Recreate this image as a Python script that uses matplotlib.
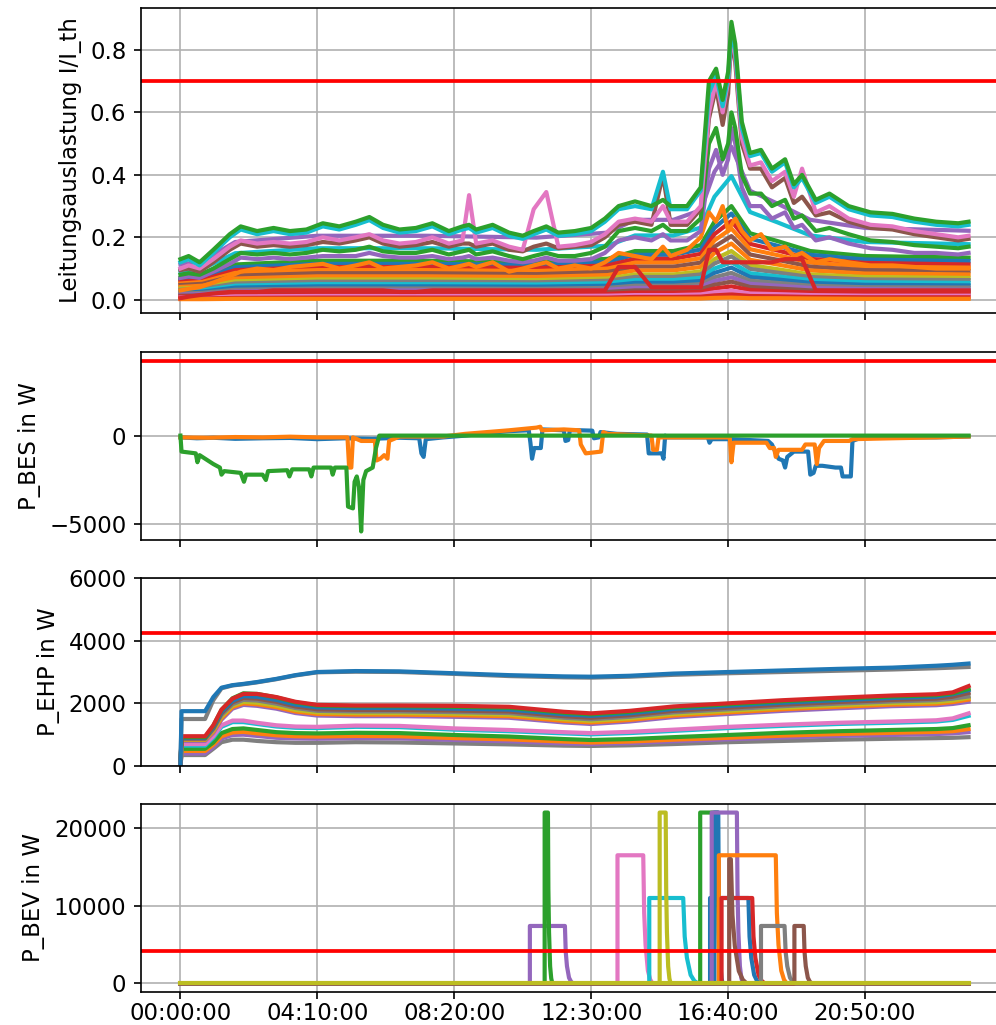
import matplotlib
matplotlib.use('Agg')
import matplotlib.pyplot as plt

plt.rcParams['font.size'] = 11

# ---------------- shared x axis (minutes of the day) ----------------
tick_minutes = [0, 250, 500, 750, 1000, 1250]
tick_labels = ['00:00:00', '04:10:00', '08:20:00', '12:30:00', '16:40:00', '20:50:00']
day_end = 1439

# ---------------- panel 1: line loading I/I_th ----------------
loading_limit = 0.7
t_main = [0, 15, 35, 60, 90, 110, 140, 170, 200, 230, 260, 290, 320, 345, 370, 400, 430, 460, 490, 515,
          527, 540, 570, 600, 625, 645, 668, 690, 720, 750, 775, 800, 830, 860, 881, 895, 925, 950, 965, 978,
          990, 1000, 1006, 1013, 1025, 1040, 1060, 1080, 1104, 1120, 1135, 1160, 1185, 1220, 1260, 1300, 1340, 1380, 1420, 1439]
load_green_top = [0.13, 0.14, 0.12, 0.16, 0.21, 0.235, 0.22, 0.23, 0.22, 0.225,
                  0.245, 0.235, 0.25, 0.265, 0.24, 0.225, 0.23, 0.245, 0.22, 0.235,
                  0.24, 0.225, 0.24, 0.215, 0.205, 0.22, 0.235, 0.215, 0.22, 0.23,
                  0.26, 0.30, 0.315, 0.30, 0.32, 0.30, 0.30, 0.36, 0.70, 0.74,
                  0.64, 0.73, 0.89, 0.82, 0.57, 0.47, 0.48, 0.42, 0.45, 0.37,
                  0.40, 0.32, 0.34, 0.30, 0.28, 0.275, 0.26, 0.25, 0.245, 0.25]
load_cyan = [0.12, 0.13, 0.11, 0.15, 0.20, 0.225, 0.21, 0.22, 0.21, 0.215,
             0.235, 0.225, 0.24, 0.255, 0.23, 0.215, 0.22, 0.235, 0.21, 0.225,
             0.23, 0.215, 0.23, 0.205, 0.195, 0.21, 0.225, 0.205, 0.21, 0.22,
             0.25, 0.29, 0.30, 0.29, 0.41, 0.29, 0.29, 0.35, 0.66, 0.72,
             0.62, 0.71, 0.86, 0.80, 0.55, 0.46, 0.47, 0.41, 0.44, 0.36,
             0.39, 0.31, 0.33, 0.29, 0.27, 0.265, 0.25, 0.24, 0.235, 0.24]
load_pink = [0.10, 0.11, 0.10, 0.13, 0.17, 0.19, 0.18, 0.185, 0.18, 0.185,
             0.20, 0.19, 0.20, 0.21, 0.19, 0.18, 0.185, 0.20, 0.18, 0.19,
             0.335, 0.18, 0.19, 0.17, 0.16, 0.29, 0.345, 0.17, 0.175, 0.185,
             0.21, 0.25, 0.26, 0.25, 0.30, 0.25, 0.25, 0.30, 0.60, 0.70,
             0.60, 0.70, 0.85, 0.78, 0.52, 0.43, 0.44, 0.38, 0.41, 0.33,
             0.42, 0.28, 0.30, 0.26, 0.24, 0.235, 0.22, 0.21, 0.20, 0.205]
load_brown = [0.095, 0.10, 0.09, 0.12, 0.16, 0.18, 0.17, 0.175, 0.17, 0.175,
              0.185, 0.18, 0.19, 0.20, 0.18, 0.17, 0.175, 0.185, 0.17, 0.18,
              0.18, 0.17, 0.18, 0.16, 0.155, 0.17, 0.18, 0.165, 0.17, 0.175,
              0.20, 0.24, 0.25, 0.24, 0.40, 0.24, 0.24, 0.29, 0.58, 0.68,
              0.56, 0.66, 0.84, 0.76, 0.50, 0.42, 0.42, 0.36, 0.39, 0.31,
              0.33, 0.27, 0.28, 0.25, 0.23, 0.225, 0.21, 0.20, 0.19, 0.195]
load_green_mid = [0.08, 0.085, 0.08, 0.10, 0.13, 0.15, 0.145, 0.15, 0.145, 0.15,
                  0.16, 0.155, 0.16, 0.17, 0.155, 0.15, 0.15, 0.16, 0.145, 0.155,
                  0.16, 0.145, 0.155, 0.14, 0.13, 0.14, 0.15, 0.14, 0.14, 0.15,
                  0.17, 0.22, 0.23, 0.22, 0.24, 0.22, 0.22, 0.26, 0.50, 0.55,
                  0.45, 0.50, 0.60, 0.55, 0.40, 0.34, 0.34, 0.30, 0.32, 0.26,
                  0.27, 0.22, 0.23, 0.21, 0.19, 0.185, 0.175, 0.17, 0.165, 0.17]
load_purple = [0.07, 0.075, 0.07, 0.09, 0.115, 0.135, 0.13, 0.135, 0.13, 0.135,
               0.14, 0.14, 0.14, 0.15, 0.14, 0.135, 0.135, 0.14, 0.13, 0.135,
               0.14, 0.13, 0.135, 0.125, 0.12, 0.125, 0.135, 0.125, 0.125, 0.13,
               0.15, 0.19, 0.20, 0.19, 0.21, 0.19, 0.19, 0.22, 0.42, 0.48,
               0.40, 0.45, 0.55, 0.50, 0.36, 0.30, 0.30, 0.26, 0.28, 0.23,
               0.24, 0.19, 0.20, 0.18, 0.165, 0.16, 0.15, 0.15, 0.145, 0.15]
load_orange = [0.03, 0.035, 0.04, 0.055, 0.075, 0.09, 0.10, 0.095, 0.105, 0.11,
               0.115, 0.10, 0.11, 0.12, 0.10, 0.105, 0.11, 0.12, 0.10, 0.11,
               0.115, 0.105, 0.12, 0.09, 0.10, 0.11, 0.12, 0.10, 0.11, 0.10,
               0.12, 0.15, 0.14, 0.13, 0.17, 0.14, 0.16, 0.20, 0.28, 0.25,
               0.30, 0.22, 0.24, 0.26, 0.22, 0.19, 0.21, 0.16, 0.17, 0.14,
               0.15, 0.12, 0.13, 0.12, 0.11, 0.11, 0.105, 0.10, 0.10, 0.10]
load_red = [0.005, 0.01, 0.015, 0.02, 0.025, 0.025, 0.025, 0.03, 0.03, 0.03,
            0.03, 0.03, 0.03, 0.03, 0.03, 0.025, 0.025, 0.03, 0.03, 0.03,
            0.03, 0.03, 0.03, 0.03, 0.03, 0.03, 0.03, 0.03, 0.03, 0.03,
            0.03, 0.105, 0.105, 0.04, 0.04, 0.04, 0.04, 0.04, 0.16, 0.16,
            0.12, 0.12, 0.12, 0.12, 0.12, 0.12, 0.12, 0.12, 0.13, 0.13,
            0.13, 0.03, 0.03, 0.03, 0.03, 0.03, 0.03, 0.03, 0.03, 0.03]

t_fill = [0, 40, 100, 250, 450, 650, 780, 830, 900, 950, 975, 1006, 1040, 1090, 1150, 1250, 1439]
fill_lines = [
    [0.113, 0.123, 0.185, 0.205, 0.205, 0.199, 0.215, 0.256, 0.256, 0.287, 0.41, 0.49, 0.349, 0.308, 0.256, 0.23, 0.221],
    [0.091, 0.099, 0.149, 0.165, 0.165, 0.16, 0.173, 0.206, 0.206, 0.231, 0.33, 0.396, 0.281, 0.248, 0.206, 0.185, 0.178],
    [0.069, 0.075, 0.113, 0.125, 0.125, 0.121, 0.131, 0.156, 0.156, 0.175, 0.25, 0.30, 0.213, 0.188, 0.156, 0.14, 0.135],
    [0.063, 0.069, 0.104, 0.115, 0.115, 0.112, 0.121, 0.144, 0.144, 0.161, 0.23, 0.276, 0.196, 0.173, 0.144, 0.129, 0.124],
    [0.058, 0.063, 0.095, 0.105, 0.105, 0.102, 0.110, 0.131, 0.131, 0.147, 0.21, 0.252, 0.179, 0.158, 0.131, 0.118, 0.113],
    [0.052, 0.057, 0.086, 0.095, 0.095, 0.092, 0.100, 0.119, 0.119, 0.133, 0.19, 0.228, 0.162, 0.143, 0.119, 0.106, 0.103],
    [0.047, 0.051, 0.077, 0.085, 0.085, 0.082, 0.089, 0.106, 0.106, 0.119, 0.17, 0.204, 0.145, 0.128, 0.106, 0.095, 0.092],
    [0.041, 0.045, 0.068, 0.075, 0.075, 0.073, 0.079, 0.094, 0.094, 0.105, 0.15, 0.18, 0.128, 0.113, 0.094, 0.084, 0.081],
    [0.036, 0.039, 0.059, 0.065, 0.065, 0.063, 0.068, 0.081, 0.081, 0.091, 0.13, 0.156, 0.111, 0.098, 0.081, 0.073, 0.070],
    [0.032, 0.035, 0.052, 0.058, 0.058, 0.056, 0.061, 0.073, 0.073, 0.081, 0.116, 0.139, 0.099, 0.087, 0.073, 0.065, 0.063],
    [0.028, 0.03, 0.045, 0.05, 0.05, 0.049, 0.053, 0.063, 0.063, 0.07, 0.10, 0.12, 0.085, 0.075, 0.063, 0.056, 0.054],
    [0.024, 0.026, 0.039, 0.043, 0.043, 0.042, 0.045, 0.054, 0.054, 0.06, 0.086, 0.103, 0.073, 0.065, 0.054, 0.048, 0.046],
    [0.02, 0.022, 0.032, 0.036, 0.036, 0.035, 0.038, 0.045, 0.045, 0.05, 0.072, 0.086, 0.061, 0.054, 0.045, 0.04, 0.039],
    [0.017, 0.018, 0.027, 0.03, 0.03, 0.029, 0.032, 0.038, 0.038, 0.042, 0.06, 0.072, 0.051, 0.045, 0.038, 0.034, 0.032],
    [0.013, 0.014, 0.022, 0.024, 0.024, 0.023, 0.025, 0.03, 0.03, 0.034, 0.048, 0.058, 0.041, 0.036, 0.03, 0.027, 0.026],
    [0.01, 0.011, 0.016, 0.018, 0.018, 0.017, 0.019, 0.023, 0.023, 0.025, 0.036, 0.043, 0.031, 0.027, 0.023, 0.02, 0.019],
    [0.007, 0.007, 0.011, 0.012, 0.012, 0.012, 0.013, 0.015, 0.015, 0.017, 0.024, 0.029, 0.02, 0.018, 0.015, 0.013, 0.013],
    [0.004, 0.004, 0.006, 0.007, 0.007, 0.007, 0.007, 0.009, 0.009, 0.01, 0.014, 0.017, 0.012, 0.011, 0.009, 0.008, 0.008],
    [0.002, 0.002, 0.003, 0.003, 0.003, 0.003, 0.003, 0.004, 0.004, 0.004, 0.006, 0.007, 0.005, 0.005, 0.004, 0.003, 0.003],
]
fill_colors = ['tab:purple', 'tab:cyan', 'tab:green', 'tab:blue', 'tab:red', 'tab:orange', 'tab:brown',
               'tab:orange', 'tab:olive', 'tab:gray', 'tab:cyan', 'tab:blue', 'tab:gray', 'tab:purple',
               'tab:brown', 'tab:red', 'tab:pink', 'tab:red', 'tab:orange']

# ---------------- panel 2: battery storage P_BES ----------------
power_limit = 4230
bes_blue_t = [0, 30, 60, 100, 150, 200, 250, 300, 350, 400, 436, 440, 444, 448, 480, 520, 560, 600, 636, 639,
              642, 646, 658, 661, 700, 703, 708, 711, 730, 752, 755, 764, 767, 797, 852, 855, 879, 882, 885, 889,
              963, 966, 970, 1005, 1073, 1080, 1086, 1092, 1100, 1104, 1108, 1120, 1146, 1150, 1156, 1160, 1172, 1196, 1206, 1209,
              1224, 1227, 1240, 1300, 1380, 1439]
bes_blue_v = [-100, -150, -120, -180, -150, -130, -200, -150, -180, -120, -150, -1000, -1200, -200, -100, 0, 150, 250, 300, -400,
              -1300, -700, -700, 350, 300, -300, -250, 300, 300, 280, -150, -100, 200, 100, 60, -1000, -1000, -1300, 0, -100,
              -100, -400, -200, -200, -300, -500, -900, -1300, -1400, -1800, -1200, -900, -900, -2200, -2100, -1700, -1700, -1800, -1800, -2300,
              -2300, -300, -150, -100, -100, -50]
bes_orange_t = [0, 50, 100, 150, 200, 250, 305, 308, 312, 315, 330, 355, 358, 365, 372, 378, 381, 400, 480, 520,
                560, 600, 650, 657, 660, 700, 728, 731, 740, 768, 772, 780, 860, 863, 870, 873, 1003, 1006, 1010, 1070,
                1076, 1084, 1087, 1092, 1135, 1141, 1158, 1162, 1166, 1175, 1221, 1227, 1300, 1380, 1439]
bes_orange_v = [-100, -120, -80, -100, -60, -100, -100, -1800, -1800, -100, -300, -300, -1400, -1300, -1100, -1300, -300, -50, -50, 100,
                200, 300, 450, 500, 300, 350, 300, -500, -1000, -900, 200, 100, 0, -800, -800, -100, -100, -1500, -400, -400,
                -700, -700, -1200, -800, -800, -500, -500, -1600, -700, -300, -300, -200, -150, -100, -50]
bes_green_t = [0, 2, 28, 31, 35, 60, 72, 75, 80, 110, 116, 120, 150, 156, 160, 195, 199, 204, 235, 239,
               243, 275, 278, 282, 303, 306, 315, 318, 322, 326, 330, 334, 339, 351, 357, 363, 1439]
bes_green_v = [0, -900, -1000, -1500, -1100, -1600, -1800, -2200, -2000, -2100, -2600, -2200, -2200, -2500, -2000, -1950, -2300, -1900, -1900, -2300,
               -1800, -1800, -2200, -1800, -1800, -4000, -4100, -2600, -2300, -2900, -5400, -2500, -2000, -1800, -700, 0, 0]

# ---------------- panel 3: heat pumps P_EHP ----------------
t_ehp = [0, 2, 35, 45, 60, 75, 95, 115, 140, 175, 210, 250, 320, 400, 500, 600, 700, 750, 820, 900,
         1000, 1100, 1200, 1300, 1380, 1410, 1439]
ehp_lines = [
    ('tab:gray',   [0, 350, 350, 350, 550, 760, 840, 840, 800, 760, 740, 740, 760, 750, 720, 690, 650, 640, 660, 700, 760, 800, 840, 870, 890, 900, 920]),
    ('tab:purple', [0, 400, 400, 400, 600, 880, 990, 1000, 960, 900, 880, 870, 890, 880, 830, 790, 720, 700, 730, 790, 850, 910, 960, 990, 1020, 1040, 1080]),
    ('tab:orange', [0, 480, 480, 480, 680, 950, 1070, 1090, 1040, 980, 950, 940, 960, 950, 890, 850, 780, 750, 780, 840, 900, 970, 1020, 1060, 1090, 1110, 1180]),
    ('tab:green',  [0, 550, 550, 550, 750, 1050, 1180, 1200, 1150, 1080, 1050, 1040, 1060, 1050, 990, 940, 860, 830, 860, 920, 990, 1060, 1110, 1150, 1180, 1210, 1300]),
    ('tab:cyan',   [0, 650, 650, 650, 900, 1250, 1400, 1400, 1340, 1260, 1220, 1210, 1250, 1240, 1160, 1110, 1040, 1010, 1050, 1120, 1210, 1280, 1340, 1380, 1420, 1470, 1600]),
    ('tab:pink',   [0, 700, 700, 700, 950, 1300, 1450, 1450, 1380, 1300, 1260, 1250, 1290, 1280, 1200, 1150, 1080, 1050, 1090, 1160, 1250, 1320, 1380, 1420, 1460, 1520, 1680]),
    ('tab:purple', [0, 800, 800, 800, 1060, 1480, 1830, 1950, 1920, 1830, 1690, 1610, 1590, 1590, 1570, 1540, 1390, 1340, 1420, 1560, 1660, 1760, 1840, 1910, 1940, 1980, 2050]),
    ('tab:orange', [0, 830, 830, 830, 1100, 1530, 1880, 2000, 1970, 1880, 1740, 1660, 1640, 1640, 1620, 1590, 1440, 1390, 1470, 1610, 1710, 1810, 1890, 1960, 1990, 2040, 2120]),
    ('tab:olive',  [0, 850, 850, 850, 1130, 1580, 1930, 2050, 2020, 1930, 1790, 1710, 1690, 1690, 1670, 1640, 1490, 1440, 1520, 1660, 1760, 1860, 1940, 2010, 2040, 2090, 2180]),
    ('tab:gray',   [0, 860, 860, 860, 1170, 1630, 1970, 2110, 2090, 1990, 1850, 1760, 1740, 1740, 1720, 1690, 1540, 1490, 1570, 1710, 1810, 1910, 1990, 2060, 2100, 2150, 2220]),
    ('tab:brown',  [0, 880, 880, 880, 1200, 1680, 2030, 2170, 2150, 2050, 1900, 1810, 1790, 1790, 1770, 1740, 1590, 1540, 1620, 1760, 1860, 1960, 2040, 2110, 2150, 2210, 2330]),
    ('tab:blue',   [0, 900, 900, 900, 1240, 1730, 2080, 2230, 2210, 2110, 1960, 1870, 1850, 1850, 1830, 1800, 1650, 1600, 1680, 1820, 1920, 2020, 2100, 2170, 2210, 2290, 2420]),
    ('tab:green',  [0, 920, 920, 920, 1280, 1790, 2160, 2320, 2300, 2190, 2030, 1930, 1910, 1910, 1890, 1860, 1700, 1650, 1730, 1870, 1970, 2070, 2150, 2220, 2260, 2320, 2460]),
    ('tab:red',    [0, 950, 950, 950, 1300, 1800, 2150, 2300, 2300, 2200, 2050, 1950, 1930, 1930, 1920, 1890, 1730, 1680, 1760, 1900, 2000, 2100, 2180, 2250, 2290, 2350, 2550]),
    ('tab:gray',   [0, 1500, 1500, 1500, 2100, 2480, 2570, 2610, 2670, 2770, 2890, 2990, 3010, 3000, 2940, 2870, 2830, 2820, 2850, 2910, 2960, 3000, 3040, 3080, 3120, 3140, 3160]),
    ('tab:blue',   [0, 1750, 1750, 1750, 2200, 2500, 2580, 2620, 2680, 2780, 2900, 3000, 3030, 3020, 2960, 2900, 2860, 2850, 2880, 2950, 3000, 3050, 3100, 3140, 3200, 3230, 3270]),
]
ehp_ylim = (0, 6000)

# ---------------- panel 4: electric vehicles P_BEV ----------------
bev_start = [638, 665, 798, 856, 875, 949, 967, 975, 970, 983, 988, 1002, 1060, 1121]
bev_end = [702, 671, 845, 918, 886, 981, 1037, 982, 1016, 1087, 1044, 1005, 1103, 1138]
bev_power = [7400, 22000, 16500, 11000, 22000, 22000, 11000, 22000, 22000, 16500, 11000, 16000, 7400, 7400]
bev_tail = [15, 8, 17, 27, 9, 6, 21, 8, 11, 20, 23, 29, 20, 15]
bev_colors = ['tab:purple', 'tab:green', 'tab:pink', 'tab:cyan', 'tab:olive', 'tab:green', 'tab:blue',
              'tab:blue', 'tab:purple', 'tab:orange', 'tab:red', 'tab:brown', 'tab:gray', 'tab:brown']
tail_frac = [0.1, 0.25, 0.5, 0.75, 1.0]
tail_share = [0.55, 0.3, 0.1, 0.03, 0.0]

# ---------------- figure ----------------
W, H, DPI = 996, 1025, 150
LW = 2.0
fig = plt.figure(figsize=(W / DPI, H / DPI), dpi=DPI)
left = 141 / W
width = 867 / W

def box(top_px, bottom_px):
    return [left, 1 - bottom_px / H, width, (bottom_px - top_px) / H]

ax1 = fig.add_axes(box(8, 313))
ax2 = fig.add_axes(box(352, 540), sharex=ax1)
ax3 = fig.add_axes(box(578, 766), sharex=ax1)
ax4 = fig.add_axes(box(804, 992), sharex=ax1)

# panel 1
for vals, col in zip(fill_lines, fill_colors):
    ax1.plot(t_fill, vals, color=col, lw=LW)
for vals, col in [(load_orange, 'tab:orange'), (load_red, 'tab:red'), (load_purple, 'tab:purple'),
                  (load_green_mid, 'tab:green'), (load_brown, 'tab:brown'), (load_pink, 'tab:pink'),
                  (load_cyan, 'tab:cyan'), (load_green_top, 'tab:green')]:
    ax1.plot(t_main, vals, color=col, lw=LW)
ax1.axhline(loading_limit, color='red', lw=1.8)
ax1.set_ylabel('Leitungsauslastung I/I_th')
ax1.set_yticks([0.0, 0.2, 0.4, 0.6, 0.8])

# panel 2
ax2.plot(bes_blue_t, bes_blue_v, color='tab:blue', lw=LW)
ax2.plot(bes_orange_t, bes_orange_v, color='tab:orange', lw=LW)
ax2.plot(bes_green_t, bes_green_v, color='tab:green', lw=LW)
ax2.axhline(power_limit, color='red', lw=1.8)
ax2.set_ylabel('P_BES in W')
ax2.set_yticks([-5000, 0])

# panel 3
for col, vals in ehp_lines:
    ax3.plot(t_ehp, vals, color=col, lw=LW)
ax3.axhline(power_limit, color='red', lw=1.8)
ax3.set_ylim(*ehp_ylim)
ax3.set_yticks([0, 2000, 4000, 6000])
ax3.set_ylabel('P_EHP in W')

# panel 4
for s, e, p, tl, col in zip(bev_start, bev_end, bev_power, bev_tail, bev_colors):
    xs = [0, s, s, e] + [e + f * tl for f in tail_frac] + [day_end]
    ys = [0, 0, p, p] + [p * g for g in tail_share] + [0]
    ax4.plot(xs, ys, color=col, lw=LW)
ax4.plot([0, day_end], [0, 0], color='tab:olive', lw=LW)
ax4.axhline(power_limit, color='red', lw=1.8)
ax4.set_ylabel('P_BEV in W')
ax4.set_yticks([0, 10000, 20000])

for ax in (ax1, ax2, ax3, ax4):
    ax.grid(True)
    ax.set_xlim(-72, 1511)
ax4.set_xticks(tick_minutes)
ax4.set_xticklabels(tick_labels)
ax4.tick_params(axis='x', pad=1.5)
for ax in (ax1, ax2, ax3):
    ax.tick_params(labelbottom=False)

fig.savefig('out.png', dpi=DPI)
